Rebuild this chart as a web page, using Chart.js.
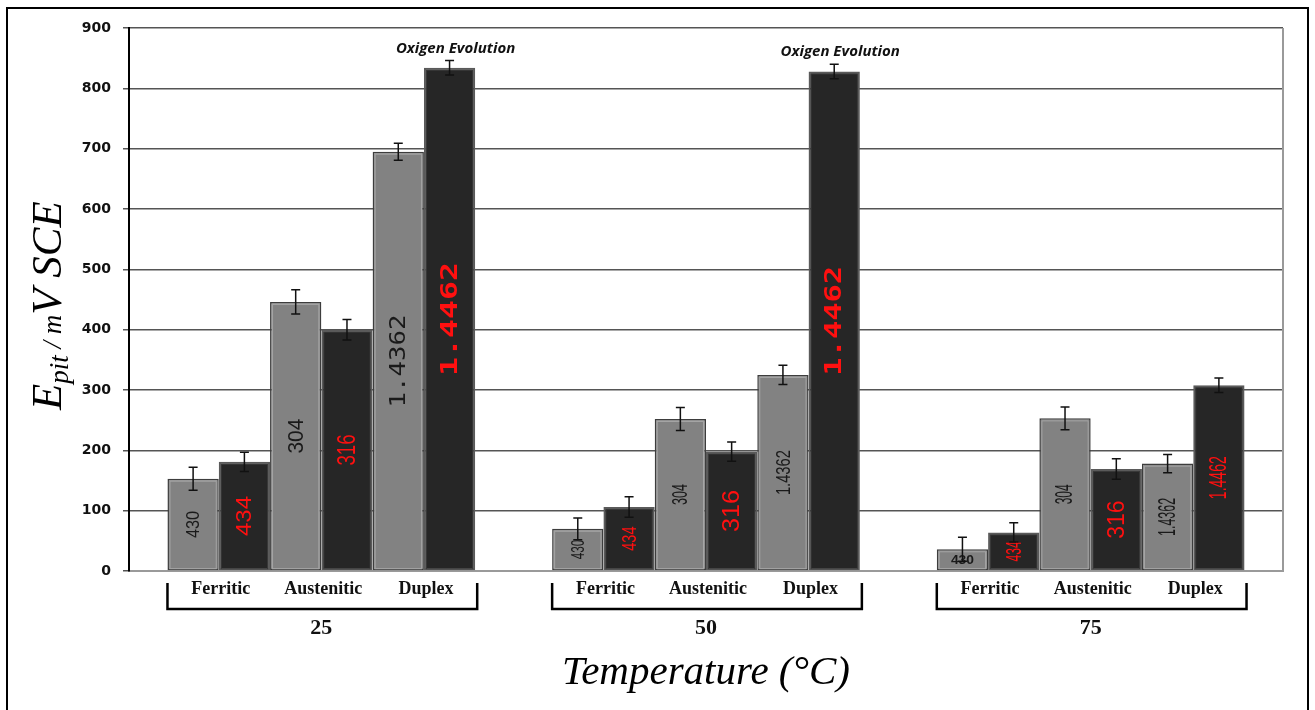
<!DOCTYPE html>
<html>
<head>
<meta charset="utf-8">
<script src="https://cdn.jsdelivr.net/npm/chart.js@4"></script>
<style>
  html, body { margin: 0; padding: 0; background: #fff; }
  #wrap { width: 1315px; height: 710px; position: relative; }
</style>
</head>
<body>
<div id="wrap"><canvas id="epit"></canvas></div>
<script>
// temperatures on the x axis, alloys as the six bars of each group
const temperatures = ['25', '50', '75']
const alloys = ['430', '434', '304', '316', '1.4362', '1.4462']
const families = ['Ferritic', 'Austenitic', 'Duplex']
const yTicks = [0, 100, 200, 300, 400, 500, 600, 700, 800, 900]

// pitting potential (mV SCE) per temperature
const epit430 = [153, 70, 36]
const epit434 = [181, 106, 64]
const epit304 = [446, 252, 253]
const epit316 = [400, 198, 169]
const epit14362 = [695, 325, 178]
const epit14462 = [834, 828, 308]

// error bar half-widths
const err430 = [19, 18, 20]
const err434 = [16, 17, 16]
const err304 = [20, 19, 19]
const err316 = [17, 16, 17]
const err14362 = [14, 16, 15]
const err14462 = [12, 12, 12]

// notes written above the 1.4462 bars
const notes14462 = ['Oxigen Evolution', 'Oxigen Evolution', '']

const values = [epit430, epit434, epit304, epit316, epit14362, epit14462]
const errors = [err430, err434, err304, err316, err14362, err14462]

// in-bar label look: size, horizontal stretch, bold, mono, flat (not rotated)
const SANS = "'Liberation Sans', Arial, sans-serif"
const MONO = "'DejaVu Sans Mono', monospace"
const labelStyles = [
  [{ size: 19, sx: 0.86 }, { size: 19, sx: 0.62 }, { size: 12, sx: 1.15, flat: true, bold: true }],
  [{ size: 22, sx: 1.09 }, { size: 21, sx: 0.69 }, { size: 22, sx: 0.55 }],
  [{ size: 22, sx: 0.95 }, { size: 22, sx: 0.57 }, { size: 23, sx: 0.52 }],
  [{ size: 25, sx: 0.75 }, { size: 24, sx: 1.05 }, { size: 23, sx: 1.0 }],
  [{ size: 22, sx: 1.17, mono: true }, { size: 21, sx: 0.70 }, { size: 23, sx: 0.54 }],
  [{ size: 23, sx: 1.37, mono: true, bold: true }, { size: 23, sx: 1.32, mono: true, bold: true }, { size: 23, sx: 0.61 }]
]

const GRAY = '#828282'
const DARK = '#262626'

const datasets = alloys.map((name, i) => {
  const light = i % 2 === 0
  return {
    label: name,
    data: values[i],
    backgroundColor: light ? GRAY : DARK,
    borderColor: light ? '#3d3d3d' : '#5a5a5a',
    borderWidth: light ? 1.5 : 2,
    innerEdge: light ? '#a6a6a6' : '#3a3a3a',
    textColor: light ? '#1a1a1a' : '#ff1010',
    borderSkipped: false
  }
})

const overlay = {
  id: 'overlay',
  afterDatasetsDraw(chart) {
    const ctx = chart.ctx
    const yScale = chart.scales.y
    chart.data.datasets.forEach((ds, di) => {
      const meta = chart.getDatasetMeta(di)
      meta.data.forEach((bar, i) => {
        const { x, y, base, width } = bar.getProps(['x', 'y', 'base', 'width'], true)
        // inner bevel line
        ctx.save()
        ctx.strokeStyle = ds.innerEdge
        ctx.lineWidth = 1
        ctx.strokeRect(x - width / 2 + 2.5, y + 2.5, width - 5, base - y - 4)
        ctx.restore()

        // label inside the bar
        const st = labelStyles[di][i]
        ctx.save()
        ctx.translate(x, (y + base) / 2)
        if (!st.flat) ctx.rotate(-Math.PI / 2)
        ctx.scale(st.sx, 1)
        ctx.font = (st.bold ? 'bold ' : '') + st.size + 'px ' + (st.mono ? MONO : SANS)
        ctx.fillStyle = ds.textColor
        ctx.textAlign = 'center'
        ctx.textBaseline = 'middle'
        ctx.fillText(alloys[di], 0, 1)
        ctx.restore()

        // error bar
        const v = ds.data[i]
        const e = errors[di][i]
        const yt = yScale.getPixelForValue(v + e)
        const yb = yScale.getPixelForValue(v - e)
        ctx.save()
        ctx.strokeStyle = '#111'
        ctx.lineWidth = 1.5
        ctx.beginPath()
        ctx.moveTo(x, yt); ctx.lineTo(x, yb)
        ctx.moveTo(x - 4.5, yt); ctx.lineTo(x + 4.5, yt)
        ctx.moveTo(x - 4.5, yb); ctx.lineTo(x + 4.5, yb)
        ctx.stroke()
        ctx.restore()

        if (di === 5 && notes14462[i]) {
          ctx.save()
          ctx.font = "italic bold 15px 'Open Sans', sans-serif"
          ctx.fillStyle = '#111'
          ctx.textAlign = 'center'
          ctx.textBaseline = 'alphabetic'
          ctx.fillText(notes14462[i], x + 6, yt - 8)
          ctx.restore()
        }
      })
    })
  },
  afterDraw(chart) {
    const ctx = chart.ctx
    const area = chart.chartArea
    ctx.save()
    // plot right edge
    ctx.strokeStyle = '#9a9a9a'
    ctx.lineWidth = 2
    ctx.beginPath()
    ctx.moveTo(area.right, area.top)
    ctx.lineTo(area.right, area.bottom)
    ctx.stroke()

    // outer frame
    ctx.strokeStyle = '#000'
    ctx.lineWidth = 2
    ctx.strokeRect(7, 8, 1301, 730)

    // family labels and brackets below each group
    const metas = alloys.map((_, i) => chart.getDatasetMeta(i))
    temperatures.forEach((t, g) => {
      const first = metas[0].data[g]
      const last = metas[5].data[g]
      const left = first.x - first.width / 2
      const right = last.x + last.width / 2
      families.forEach((f, k) => {
        const cx = (metas[2 * k].data[g].x + metas[2 * k + 1].data[g].x) / 2
        ctx.font = "bold 18px 'Liberation Serif', serif"
        ctx.fillStyle = '#111'
        ctx.textAlign = 'center'
        ctx.textBaseline = 'middle'
        ctx.fillText(f, cx + 2, 589)
      })
      ctx.strokeStyle = '#000'
      ctx.lineWidth = 2.5
      ctx.beginPath()
      ctx.moveTo(left, 583)
      ctx.lineTo(left, 609)
      ctx.lineTo(right + 2, 609)
      ctx.lineTo(right + 2, 583)
      ctx.stroke()
    })

    // y title with subscript
    ctx.translate(61, 410)
    ctx.rotate(-Math.PI / 2)
    ctx.fillStyle = '#000'
    ctx.textAlign = 'left'
    ctx.textBaseline = 'alphabetic'
    const big = "italic 43px 'Liberation Serif', serif"
    const small = "italic 27px 'Liberation Serif', serif"
    let px = 0
    const part = (txt, font, dy) => {
      ctx.font = font
      ctx.fillText(txt, px, dy)
      px += ctx.measureText(txt).width
    }
    part('E', big, 0)
    part('pit', small, 7)
    part(' / ', small, 0)
    part('m', small, 0)
    part('V SCE', big, 0)
    ctx.restore()
  }
}

new Chart(document.getElementById('epit'), {
  type: 'bar',
  data: { labels: temperatures, datasets: datasets },
  plugins: [overlay],
  options: {
    responsive: true,
    maintainAspectRatio: false,
    animation: false,
    layout: { padding: { top: 28, right: 32, left: 0, bottom: 0 } },
    datasets: { bar: { categoryPercentage: 0.8, barPercentage: 1.0 } },
    plugins: {
      legend: { display: false },
      title: { display: false },
      tooltip: { enabled: false }
    },
    scales: {
      x: {
        grid: { display: false, drawTicks: false },
        border: { display: true, color: '#9a9a9a', width: 2 },
        ticks: {
          color: '#111',
          padding: 44,
          maxRotation: 0,
          font: { family: "'Liberation Serif', serif", weight: 'bold', size: 22 }
        },
        title: {
          display: true,
          text: 'Temperature (°C)',
          color: '#000',
          font: { family: "'Liberation Serif', serif", style: 'italic', size: 41 },
          padding: { top: 0, bottom: 12 }
        },
        afterFit(scale) { scale.height = 139 }
      },
      y: {
        min: 0,
        max: 900,
        afterBuildTicks(scale) { scale.ticks = yTicks.map(v => ({ value: v })) },
        grid: { color: '#555', lineWidth: 1.5, tickLength: 6, tickColor: '#555' },
        border: { display: true, color: '#000', width: 2 },
        ticks: {
          color: '#111',
          padding: 12,
          font: { family: "'DejaVu Sans', sans-serif", weight: 'bold', size: 14 }
        },
        afterFit(scale) { scale.width = 129 }
      }
    }
  }
})
</script>
</body>
</html>
